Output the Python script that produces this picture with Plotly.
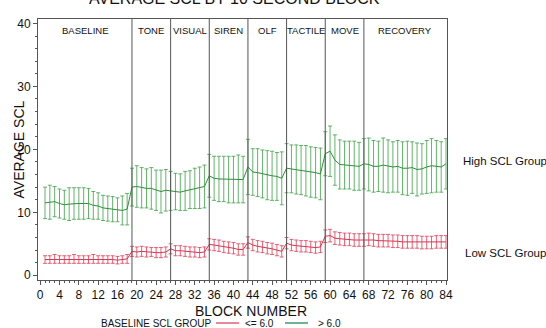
import plotly.graph_objects as go

# ---------------- data ----------------
blocks = list(range(1, 85))

high_mean = [
    11.5, 11.6, 11.7, 11.4, 11.2, 11.3, 11.4, 11.4, 11.4, 11.4, 11.1, 11.0, 10.7, 10.6, 10.5, 10.4, 10.3, 10.5,
    14.0, 14.1, 13.9, 13.8, 13.8, 13.5, 13.3, 13.5,
    13.4, 13.3, 13.2, 13.4, 13.6, 13.8, 13.9, 14.1,
    15.8, 15.4, 15.3, 15.3, 15.2, 15.2, 15.3, 15.2,
    17.2, 16.4, 16.3, 16.1, 15.9, 15.8, 15.7, 15.4,
    17.0, 16.9, 16.8, 16.7, 16.6, 16.4, 16.3, 16.1,
    19.3, 19.7, 18.3, 17.6, 17.5, 17.5, 17.4, 17.3,
    17.7, 17.6, 17.3, 17.3, 17.5, 17.3, 17.2, 17.3, 17.0, 17.0, 17.1, 16.8, 16.9, 17.2, 17.4, 17.3, 17.2, 17.7,
]
high_err = [
    2.5, 2.7, 2.4, 2.3, 2.3, 2.6, 2.5, 2.5, 2.5, 2.4, 2.2, 2.1, 2.0, 2.0, 2.0, 1.9, 2.3, 2.5,
    3.0, 3.3, 3.2, 3.1, 3.3, 3.2, 3.4, 3.3,
    3.1, 2.9, 2.9, 3.1, 3.0, 3.2, 3.3, 3.4,
    3.4, 3.5, 3.6, 3.6, 3.7, 3.7, 3.8, 3.7,
    4.4, 3.7, 3.8, 3.8, 3.9, 3.9, 3.8, 4.2,
    3.9, 3.8, 3.9, 3.9, 4.0, 4.0, 4.0, 4.1,
    3.5, 4.0, 4.0, 3.9, 3.8, 3.8, 3.9, 3.8,
    4.0, 4.2, 4.1, 4.0, 4.3, 4.2, 4.0, 4.1, 4.2, 4.3, 4.1, 4.2, 4.0, 4.2, 4.3, 4.1, 4.0, 4.0,
]
low_mean = [
    2.5, 2.5, 2.6, 2.5, 2.5, 2.5, 2.6, 2.5, 2.5, 2.5, 2.6, 2.5, 2.5, 2.5, 2.5, 2.4, 2.5, 2.6,
    3.8, 3.7, 3.8, 3.7, 3.7, 3.6, 3.6, 3.7,
    4.2, 3.9, 3.9, 3.8, 3.7, 3.7, 3.6, 3.7,
    4.9, 4.8, 4.7, 4.5, 4.4, 4.3, 4.1, 4.1,
    5.2, 4.8, 4.6, 4.5, 4.3, 4.2, 4.0, 3.8,
    5.1, 4.8, 4.7, 4.6, 4.6, 4.5, 4.4, 4.5,
    6.2, 6.3, 5.9, 5.8, 5.7, 5.7, 5.6, 5.6,
    5.6, 5.7, 5.6, 5.5, 5.5, 5.5, 5.4, 5.4, 5.3, 5.3, 5.3, 5.3, 5.2, 5.2, 5.2, 5.3, 5.3, 5.3,
]
low_err = [
    0.6, 0.6, 0.7, 0.6, 0.6, 0.6, 0.7, 0.6, 0.6, 0.6, 0.7, 0.6, 0.6, 0.6, 0.6, 0.6, 0.6, 0.7,
    0.8, 0.8, 0.8, 0.8, 0.7, 0.8, 0.8, 0.8,
    0.8, 0.8, 0.8, 0.8, 0.8, 0.8, 0.8, 0.8,
    0.9, 0.9, 0.9, 0.9, 0.9, 0.9, 0.9, 0.9,
    0.9, 0.9, 0.9, 0.9, 0.9, 0.9, 0.9, 0.9,
    0.9, 0.9, 0.9, 0.9, 0.9, 0.9, 0.9, 0.9,
    1.0, 1.0, 1.0, 1.0, 1.0, 1.0, 1.0, 1.0,
    1.0, 1.0, 1.0, 1.0, 1.0, 1.0, 1.0, 1.0, 1.0, 1.0, 1.0, 1.0, 1.0, 1.0, 1.0, 1.0, 1.0, 1.0,
]

phase_names = ["BASELINE", "TONE", "VISUAL", "SIREN", "OLF", "TACTILE", "MOVE", "RECOVERY"]
phase_starts = [1, 19, 27, 35, 43, 51, 59, 67]

x_ticks = list(range(0, 85, 4))
y_ticks = [0, 10, 20, 30, 40]

# ---------------- style ----------------
FONT = "Liberation Sans, Arial, sans-serif"
GREEN = "#2f8f3a"
GREEN_ERR = "rgba(60,160,70,0.8)"
RED = "#d8344f"
RED_ERR = "rgba(225,70,95,0.85)"
AXIS = "#555555"
X_RANGE = [-0.45, 84.2]
Y_RANGE = [-0.75, 40.7]

fig = go.Figure()
fig.add_trace(go.Scatter(
    x=blocks, y=high_mean, mode="lines",
    line=dict(color=GREEN, width=1),
    error_y=dict(type="data", array=high_err, visible=True, color=GREEN_ERR, thickness=1, width=2),
    showlegend=False, hoverinfo="skip",
))
fig.add_trace(go.Scatter(
    x=blocks, y=low_mean, mode="lines",
    line=dict(color=RED, width=1),
    error_y=dict(type="data", array=low_err, visible=True, color=RED_ERR, thickness=1, width=2),
    showlegend=False, hoverinfo="skip",
))

# phase dividers and labels
edges = [X_RANGE[0]] + phase_starts[1:] + [X_RANGE[1]]
for i, name in enumerate(phase_names):
    if i > 0:
        fig.add_shape(type="line", xref="x", yref="paper", x0=phase_starts[i], x1=phase_starts[i],
                      y0=0, y1=1, line=dict(color=AXIS, width=1))
    fig.add_annotation(x=(edges[i] + edges[i + 1]) / 2, xref="x", y=1, yref="paper",
                       yshift=-11, yanchor="middle", xanchor="center", showarrow=False,
                       text=name, font=dict(family=FONT, size=9.5, color="#111"))

# group labels on the right
fig.add_annotation(x=1, xref="paper", xshift=14, xanchor="left", y=18.1, yref="y",
                   text="High SCL Group", showarrow=False, font=dict(family=FONT, size=11.5, color="#111"))
fig.add_annotation(x=1, xref="paper", xshift=16, xanchor="left", y=3.5, yref="y",
                   text="Low SCL Group", showarrow=False, font=dict(family=FONT, size=11.5, color="#111"))

# titles
fig.add_annotation(x=0.48, xref="paper", y=1, yref="paper", yshift=10, yanchor="bottom",
                   text="AVERAGE SCL BY 10 SECOND BLOCK", showarrow=False,
                   font=dict(family=FONT, size=16, color="#111"))
fig.add_annotation(x=0.52, xref="paper", y=0, yref="paper", yshift=-31, yanchor="middle",
                   text="BLOCK NUMBER", showarrow=False, font=dict(family=FONT, size=14, color="#111"))
fig.add_annotation(x=0, xref="paper", xshift=-30, y=0.5, yref="paper", textangle=-90,
                   text="AVERAGE SCL", showarrow=False, font=dict(family=FONT, size=14, color="#111"))

# manual legend (pixel offsets relative to plot area)
W, H = 409.0, 261.0
def px(xp):
    return (xp - 38.0) / W
ly = -(323 - 280) / H
fig.add_annotation(x=px(99), xref="paper", y=ly, yref="paper", xanchor="left", yanchor="middle",
                   text="BASELINE SCL GROUP", showarrow=False, font=dict(family=FONT, size=10, color="#111"))
fig.add_shape(type="line", xref="paper", yref="paper", x0=px(216), x1=px(239), y0=ly, y1=ly,
              line=dict(color="#e0607a", width=1.5))
fig.add_annotation(x=px(243), xref="paper", y=ly, yref="paper", xanchor="left", yanchor="middle",
                   text="&lt;= 6.0", showarrow=False, font=dict(family=FONT, size=10, color="#111"))
fig.add_shape(type="line", xref="paper", yref="paper", x0=px(285), x1=px(308), y0=ly, y1=ly,
              line=dict(color="#3c9c6c", width=1.5))
fig.add_annotation(x=px(316), xref="paper", y=ly, yref="paper", xanchor="left", yanchor="middle",
                   text="&gt; 6.0", showarrow=False, font=dict(family=FONT, size=10, color="#111"))

fig.update_layout(
    width=546, height=328,
    margin=dict(l=38, r=99, t=19, b=48),
    paper_bgcolor="white", plot_bgcolor="white",
    font=dict(family=FONT, color="#111"),
    showlegend=False,
)
fig.update_xaxes(
    range=X_RANGE, tickvals=x_ticks, ticks="outside", ticklen=4, tickcolor=AXIS,
    minor=dict(dtick=1, tick0=0, ticks="outside", ticklen=2, tickcolor=AXIS, showgrid=False),
    showline=True, linecolor=AXIS, linewidth=1, mirror=True, showgrid=False, zeroline=False,
    tickfont=dict(family=FONT, size=12, color="#111"),
)
fig.update_yaxes(
    range=Y_RANGE, tickvals=y_ticks, ticks="outside", ticklen=4, tickcolor=AXIS,
    minor=dict(dtick=2, tick0=0, ticks="outside", ticklen=2, tickcolor=AXIS, showgrid=False),
    showline=True, linecolor=AXIS, linewidth=1, mirror=True, showgrid=False, zeroline=False,
    tickfont=dict(family=FONT, size=12, color="#111"),
)

fig.write_html("out.html")
